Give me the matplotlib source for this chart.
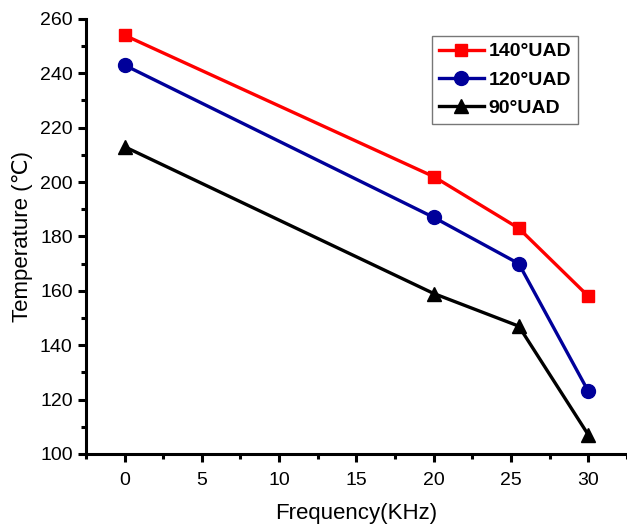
import matplotlib
matplotlib.use("Agg")
import matplotlib.pyplot as plt
from matplotlib.ticker import MultipleLocator

plt.rcParams['font.family'] = ['Liberation Sans', 'DejaVu Sans']

freq = [0, 20, 25.5, 30]
t140 = [254, 202, 183, 158]
t120 = [243, 187, 170, 123]
t90 = [213, 159, 147, 107]
labels = ['140°UAD', '120°UAD', '90°UAD']

fig = plt.figure(figsize=(6.27, 5.26), dpi=100)
ax = fig.add_axes([0.137, 0.137, 0.863, 0.827])

ax.plot(freq, t140, color='#ff0000', marker='s', ms=9, lw=2.4, label=labels[0])
ax.plot(freq, t120, color='#00009a', marker='o', ms=10, lw=2.4, label=labels[1])
ax.plot(freq, t90, color='black', marker='^', ms=10, lw=2.4, label=labels[2])

ax.set_xlim(-2.5, 32.5)
ax.set_ylim(100, 260)
ax.xaxis.set_major_locator(MultipleLocator(5))
ax.xaxis.set_minor_locator(MultipleLocator(2.5))
ax.yaxis.set_major_locator(MultipleLocator(20))
ax.yaxis.set_minor_locator(MultipleLocator(10))

for s in ['top', 'right']:
    ax.spines[s].set_visible(False)
for s in ['left', 'bottom']:
    ax.spines[s].set_linewidth(2.2)

ax.tick_params(which='major', direction='out', length=6, width=2.2, labelsize=14)
ax.tick_params(axis='x', which='major', pad=7)
ax.tick_params(which='minor', direction='out', length=3.5, width=2.2)

ax.set_xlabel('Frequency(KHz)', fontsize=16, labelpad=10)
ax.set_ylabel('Temperature (℃)', fontsize=16, labelpad=5)

leg = ax.legend(loc='upper right', bbox_to_anchor=(0.9094, 0.961), borderaxespad=0,
                prop={'weight': 'bold', 'size': 14},
                frameon=True, fancybox=False, edgecolor='#555555', handlelength=2.3,
                handletextpad=0.25, borderpad=0.35, labelspacing=0.55)
leg.get_frame().set_linewidth(1.0)

fig.savefig('out.png', dpi=100)
